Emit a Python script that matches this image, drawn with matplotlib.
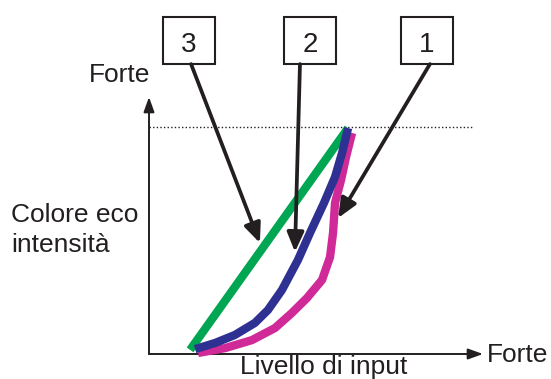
import matplotlib.pyplot as plt
from matplotlib.patches import Rectangle

plt.rcParams['font.family'] = ['Liberation Sans', 'DejaVu Sans']

# curve points (input level 0-100, echo intensity 0-100)
green_x = [12.3, 59.6]
green_y = [1.6, 87.9]

blue_x = [13.8, 19.8, 25.7, 31.7, 35.6, 39.8, 44.6, 48.2, 52.4, 55.7, 57.8, 59.6]
blue_y = [1.9, 4.3, 7.4, 12.1, 17.1, 24.9, 36.6, 47.1, 58.8, 68.9, 78.2, 87.9]

magenta_x = [14.7, 22.8, 30.8, 37.7, 42.8, 47.3, 51.8, 54.2, 55.1, 55.7, 57.5, 59.0, 60.8]
magenta_y = [0.4, 2.3, 5.4, 10.1, 16.0, 21.8, 28.8, 37.7, 47.1, 58.8, 67.7, 76.7, 86.0]

max_level = 88.3

# callout boxes: label, box centre x, arrow start x, arrow tip
labels = ['3', '2', '1']
box_x = [12.0, 48.2, 83.2]
start_x = [12.6, 45.2, 84.1]
tip_x = [33.2, 43.7, 56.6]
tip_y = [43.2, 39.7, 52.9]

ink = '#231f20'

fig = plt.figure(figsize=(5.51, 3.79), dpi=100)
ax = fig.add_axes([149 / 551, 25 / 379, 334 / 551, 257 / 379])
ax.set_xlim(0, 100)
ax.set_ylim(0, 100)
ax.axis('off')

# axes with arrow heads
axis_style = dict(arrowstyle='-|>,head_length=0.75,head_width=0.27', lw=1.4,
                  color=ink, mutation_scale=12, shrinkA=0, shrinkB=0)
ax.annotate('', xy=(0, 100), xytext=(0, 0), arrowprops=axis_style, annotation_clip=False)
ax.annotate('', xy=(100, 0), xytext=(0, 0), arrowprops=axis_style, annotation_clip=False)

# dotted maximum level
ax.plot([0, 96.7], [max_level, max_level], color=ink, lw=1,
        linestyle=(0, (1, 1.6)), clip_on=False)

# curves
ax.plot(magenta_x, magenta_y, color='#d02a98', lw=6, solid_capstyle='butt',
        solid_joinstyle='round', clip_on=False, zorder=3)
ax.plot(green_x, green_y, color='#00a651', lw=6, solid_capstyle='butt',
        clip_on=False, zorder=4)
ax.plot(blue_x, blue_y, color='#2e3192', lw=6, solid_capstyle='butt',
        solid_joinstyle='round', clip_on=False, zorder=5)

# numbered boxes with arrows
box_w, box_h = 15.6, 18.3
box_bottom = 112.8
for lab, bx, sx, tx, ty in zip(labels, box_x, start_x, tip_x, tip_y):
    ax.add_patch(Rectangle((bx - box_w / 2, box_bottom), box_w, box_h, fill=False,
                           lw=1.5, edgecolor=ink, clip_on=False))
    ax.text(bx, 117.5, lab, ha='center', va='baseline', fontsize=20, color=ink)
    ax.annotate('', xy=(tx, ty), xytext=(sx, box_bottom),
                arrowprops=dict(arrowstyle='-|>,head_length=0.65,head_width=0.28',
                                lw=2.7, color=ink, mutation_scale=18,
                                shrinkA=0, shrinkB=0),
                annotation_clip=False, zorder=6)

# text labels
ax.text(0.3, 105.8, 'Forte', ha='right', va='baseline', fontsize=19, color=ink)
ax.text(-41.3, 51.4, 'Colore eco', ha='left', va='baseline', fontsize=19, color=ink)
ax.text(-41.3, 39.7, 'intensità', ha='left', va='baseline', fontsize=19, color=ink)
ax.text(52.2, -7.8, 'Livello di input', ha='center', va='baseline', fontsize=19, color=ink)
ax.text(101.2, -3.1, 'Forte', ha='left', va='baseline', fontsize=19, color=ink)

fig.savefig('out.png', dpi=100)
